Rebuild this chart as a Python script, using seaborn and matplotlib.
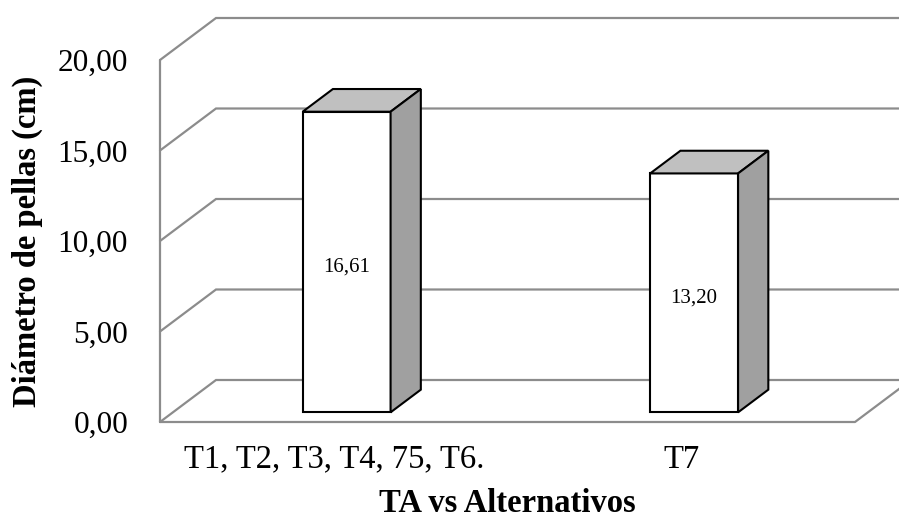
import matplotlib
matplotlib.use("Agg")
import matplotlib.pyplot as plt
import pandas as pd
import seaborn as sns

# Datos
tratamientos = ["T1, T2, T3, T4, 75, T6.", "T7"]
diametro = [16.61, 13.20]
marcas_y = [0, 5, 10, 15, 20]

sns.set_theme(style="white")
plt.rcParams["font.family"] = ["Liberation Serif", "DejaVu Serif"]

W, H = 899, 521
fig = plt.figure(figsize=(W / 100, H / 100), dpi=100)
ax = fig.add_axes([160 / W, 1 - 422 / H, (855 - 160) / W, (422 - 60) / H])

df = pd.DataFrame({"tratamiento": tratamientos, "diametro": diametro})
sns.barplot(data=df, x="tratamiento", y="diametro", color="white",
            width=0.253, edgecolor="black", linewidth=1.5,
            saturation=1, ax=ax, zorder=3)
ax.set_xlim(-0.5, 1.5)
ax.set_ylim(0, 20)

# perspective depth (pixels) converted to data units
fig.canvas.draw()
bb = ax.get_window_extent()
px_x = bb.width / 2.0
px_y = bb.height / 20.0
DX = 56 / px_x
DY = 42 / px_y

gris = "#8c8c8c"
lw_g = 1.6

# left wall edge, floor and back-wall gridlines
x0, x1 = ax.get_xlim()
ax.plot([x0, x0], [0, 20], color=gris, lw=lw_g, zorder=1, clip_on=False)
ax.plot([x0, x1, x1 + DX], [0, 0, DY], color=gris, lw=lw_g, zorder=1, clip_on=False)
for t in marcas_y:
    ax.plot([x0, x0 + DX, x1 + DX + 1], [t, t + DY, t + DY],
            color=gris, lw=lw_g, zorder=1, clip_on=False,
            solid_joinstyle="miter")

# 3D boxes: front face pushed into the depth, plus top and side faces
d0, d1 = 0.23, 0.77
dd = d1 - d0
for p, v in zip(ax.patches, diametro):
    fx = p.get_x() + d0 * DX
    fy = d0 * DY
    w = p.get_width()
    h = p.get_height()
    p.set_x(fx)
    p.set_y(fy)
    top = [(fx, fy + h), (fx + w, fy + h),
           (fx + w + dd * DX, fy + h + dd * DY), (fx + dd * DX, fy + h + dd * DY)]
    side = [(fx + w, fy), (fx + w + dd * DX, fy + dd * DY),
            (fx + w + dd * DX, fy + h + dd * DY), (fx + w, fy + h)]
    ax.add_patch(plt.Polygon(top, closed=True, facecolor="#c0c0c0",
                             edgecolor="black", lw=1.5, zorder=3, clip_on=False,
                             joinstyle="miter"))
    ax.add_patch(plt.Polygon(side, closed=True, facecolor="#a0a0a0",
                             edgecolor="black", lw=1.5, zorder=3, clip_on=False,
                             joinstyle="miter"))
    ax.text(fx + w / 2, fy + h / 2 - 0.3, f"{v:.2f}".replace(".", ","),
            ha="center", va="center", fontsize=15, color="black", zorder=4)

ax.set_yticks(marcas_y)
ax.set_yticklabels([f"{t:.2f}".replace(".", ",") for t in marcas_y])
ax.tick_params(axis="y", length=0, pad=23, labelsize=22.5, colors="black")
ax.tick_params(axis="x", length=0, pad=16, labelsize=23.5, colors="black")
for s in ax.spines.values():
    s.set_visible(False)
ax.set_facecolor("none")

ax.set_xlabel("TA vs Alternativos", fontsize=23.5, fontweight="bold", color="black")
ax.set_ylabel("Diámetro de pellas (cm)", fontsize=23.5, fontweight="bold", color="black")
ax.xaxis.set_label_coords(0.5, -0.182)
ax.yaxis.set_label_coords(-0.168, 0.5)

fig.savefig("out.png", dpi=100, facecolor="white")
